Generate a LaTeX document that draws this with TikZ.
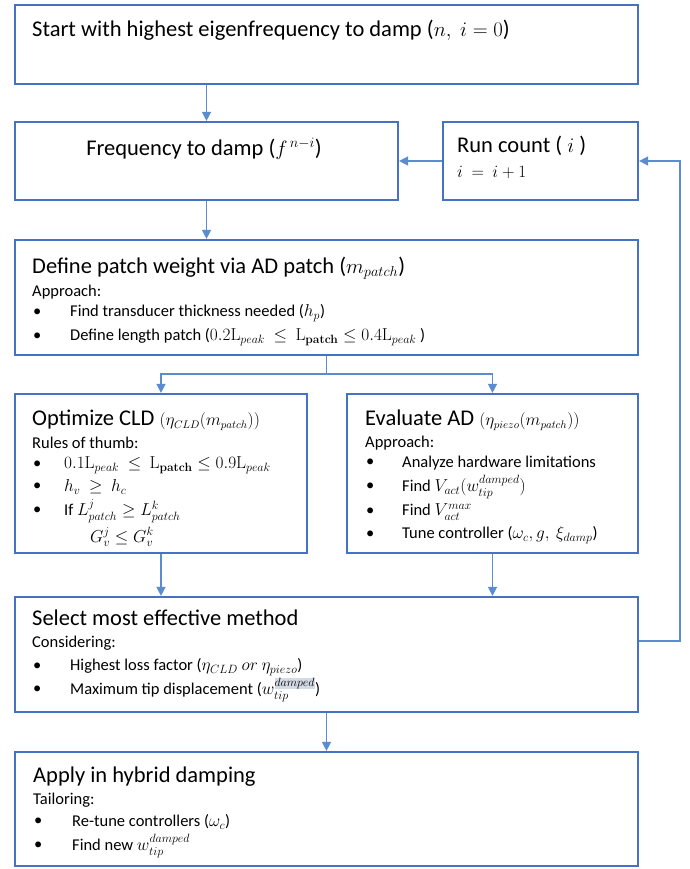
\documentclass[tikz,border=0pt]{standalone}
\usepackage{amsmath}
\usepackage[no-math]{fontspec}
\setmainfont{Carlito}
\usepackage{xcolor}
\usetikzlibrary{arrows.meta}
\definecolor{boxblue}{HTML}{4472C4}
\definecolor{arrblue}{HTML}{5B8BD0}
\definecolor{hlgray}{HTML}{D5DBE5}
\newcommand{\smallmath}[1]{{\fontsize{16}{18}\selectfont #1}}
\newcommand{\hlsup}[1]{{\setlength{\fboxsep}{0pt}\colorbox{hlgray}{$\scriptstyle #1$}}}
\begin{document}
\begin{tikzpicture}[x=1pt,y=-1pt,
    blk/.style={draw=boxblue,line width=2.2pt,rectangle,inner sep=0pt},
    arr/.style={draw=arrblue,line width=1.4pt,-{Triangle[width=9pt,length=9pt]}},
    ttl/.style={anchor=west,inner sep=0pt,font=\fontsize{22.5}{26}\selectfont},
    txt/.style={anchor=west,inner sep=0pt,font=\fontsize{16.5}{19}\selectfont}]
\useasboundingbox (0,0) rectangle (689,869);

        \node[blk,minimum width=623pt,minimum height=79pt] (start) at (326.5,44.5){};
        \node[blk,minimum width=383pt,minimum height=78pt] (freq) at (206.5,161){};
        \node[blk,minimum width=195pt,minimum height=78pt] (runc) at (540.5,161){};
        \node[blk,minimum width=623pt,minimum height=115pt] (patch) at (326.5,297.5){};
        \node[blk,minimum width=292pt,minimum height=159pt] (cld) at (161,473.5){};
        \node[blk,minimum width=291pt,minimum height=159pt] (ad) at (492.5,473.5){};
        \node[blk,minimum width=623pt,minimum height=115pt] (sel) at (326.5,654.5){};
        \node[blk,minimum width=623pt,minimum height=114pt] (app) at (326.5,809){};

        % start / frequency / run count
        \node[ttl] (starttxt) at (32,30){Start with highest eigenfrequency to damp ($n,\ i=0$)};
        \node[ttl,anchor=center] (freqtxt) at (204,149){Frequency to damp ($f^{\,n-i}$)};
        \node[ttl] (runctxt) at (457,146){Run count ( $i$ )};
        \node[txt] (runcinc) at (457,172){$i\ =\ i+1$};

        % patch weight
        \node[ttl] (patchttl) at (32,268){Define patch weight via AD patch ($m_{patch}$)};
        \node[txt] (patchsub) at (32,292){Approach:};
        \node[txt] (patchb1) at (33,313){\textbullet};
        \node[txt] (patcht1) at (70,313){Find transducer thickness needed ($h_p$)};
        \node[txt] (patchb2) at (33,337){\textbullet};
        \node[txt] (patcht2) at (70,337){Define length patch ($0.2\mathrm{L}_{peak}\ \le\ \mathrm{L}_{\mathbf{patch}}\le 0.4\mathrm{L}_{peak}$ )};

        % CLD
        \node[ttl] (cldttl) at (32,420){Optimize CLD \smallmath{$(\eta_{CLD}(m_{patch}))$}};
        \node[txt] (cldsub) at (32,443){Rules of thumb:};
        \node[txt] (cldb1) at (33,465){\textbullet};
        \node[txt] (cldt1) at (64,465){$0.1\mathrm{L}_{peak}\ \le\ \mathrm{L}_{\mathbf{patch}}\le 0.9\mathrm{L}_{peak}$};
        \node[txt] (cldb2) at (33,487){\textbullet};
        \node[txt] (cldt2) at (64,487){$h_v\ \ge\ h_c$};
        \node[txt] (cldb3) at (33,511){\textbullet};
        \node[txt] (cldt3) at (64,511){If $L^{j}_{patch}\ge L^{k}_{patch}$};
        \node[txt] (cldt4) at (90,537){$G^{j}_{v}\le G^{k}_{v}$};

        % AD
        \node[ttl] (adttl) at (365,420){Evaluate AD \smallmath{$(\eta_{piezo}(m_{patch}))$}};
        \node[txt] (adsub) at (365,443){Approach:};
        \node[txt] (adb1) at (366,463){\textbullet};
        \node[txt] (adt1) at (402,463){Analyze hardware limitations};
        \node[txt] (adb2) at (366,487){\textbullet};
        \node[txt] (adt2) at (402,487){Find $V_{act}(w^{damped}_{tip})$};
        \node[txt] (adb3) at (366,512){\textbullet};
        \node[txt] (adt3) at (402,512){Find $V^{max}_{act}$};
        \node[txt] (adb4) at (366,535){\textbullet};
        \node[txt] (adt4) at (402,535){Tune controller ($\omega_c,g,\ \xi_{damp}$)};

        % select
        \node[ttl] (selttl) at (32,618){Select most effective method};
        \node[txt] (selsub) at (32,643){Considering:};
        \node[txt] (selb1) at (33,667){\textbullet};
        \node[txt] (selt1) at (70,667){Highest loss factor ($\eta_{CLD}\ or\ \eta_{piezo}$)};
        \node[txt] (selb2) at (33,690){\textbullet};
        \node[txt] (selt2) at (70,690){Maximum tip displacement ($w^{\hlsup{damped}}_{tip}$)};

        % apply
        \node[ttl] (appttl) at (33,777){Apply in hybrid damping};
        \node[txt] (appsub) at (33,800){Tailoring:};
        \node[txt] (appb1) at (34,822){\textbullet};
        \node[txt] (appt1) at (72,822){Re-tune controllers ($\omega_c$)};
        \node[txt] (appb2) at (34,846){\textbullet};
        \node[txt] (appt2) at (72,846){Find new $w^{damped}_{tip}$};

        \coordinate (split) at (326.5,374);
        \coordinate (back) at (680,641);
        \draw[arr] (start.south -| freq.north) -- (freq.north);
        \draw[arr] (runc.west) -- (freq.east);
        \draw[arr] (freq.south) -- (patch.north -| freq.south);
        \draw[arrblue,line width=1.4pt] (patch.south) -- (split);
        \draw[arr] (split) -| (cld.north);
        \draw[arr] (split) -| (ad.north);
        \draw[arr] (cld.south) -- (cld.south |- sel.north);
        \draw[arr] (ad.south) -- (ad.south |- sel.north);
        \draw[arr] (sel.south) -- (app.north);
        \draw[arr] (sel.east |- back) -- (back) |- (runc.east);

\end{tikzpicture}
\end{document}
